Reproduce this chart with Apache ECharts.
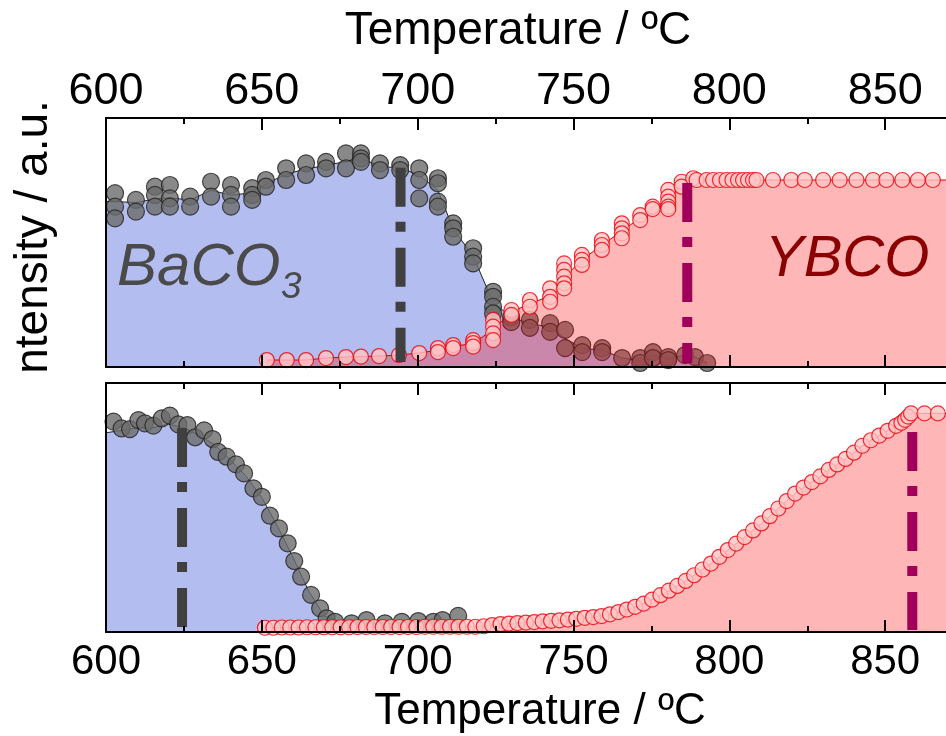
<!DOCTYPE html>
<html><head><meta charset="utf-8">
<script src="https://cdn.jsdelivr.net/npm/echarts@6/dist/echarts.min.js"></script>
<style>html,body{margin:0;padding:0;background:#fff}#c{width:946px;height:736px}</style>
</head><body><div id="c"></div>
<script>
// ---------- data ----------
const xTickLabels = [600, 650, 700, 750, 800, 850];

// top panel, BaCO3 (grey dots, several readings per temperature step)
const topBaT = [602.9,609.6,615.7,620.5,627,633.7,640.1,646.9,651.3,657.8,664.2,670.6,677,681.8,687.9,694.4,700.5,706.5,711.4,717.8,724.2,730,736,742.5,747.3,752.8,759.2,765.6,771.4,775.5,780.4,785.8,789,792.9];
const topBaV = [[0.698,0.644,0.597],[0.671,0.624],[0.724,0.691,0.644],[0.731,0.677,0.644],[0.684,0.644],[0.744,0.684],[0.731,0.691,0.644],[0.718,0.691,0.671],[0.751,0.724],[0.798,0.751],[0.818,0.771],[0.824,0.798],[0.858,0.798],[0.858,0.838,0.824],[0.818,0.791],[0.811,0.791],[0.798,0.751,0.677],[0.758,0.738,0.664,0.644],[0.577,0.557,0.523],[0.477,0.443,0.416],[0.302,0.282,0.242,0.215],[0.2,0.18],[0.189,0.157],[0.176,0.141],[0.149,0.076],[0.088,0.06],[0.076,0.06],[0.036],[0.036,0.016],[0.06,0.036],[0.04,0.028],[0.048],[0.04],[0.016]];
const topBaLineT = [600,602.9,609.6,615.7,620.5,627,633.7,640.1,646.9,651.3,657.8,664.2,670.6,677,681.8,687.9,694.4,700.5,706.5,711.4,717.8,724.2,730,736,742.5,747.3,752.8,759.2,765.6,771.4,775.5,780.4,785.8,789,792.9];
const topBaLineV = [0.665,0.665,0.66,0.675,0.68,0.67,0.71,0.69,0.7,0.735,0.775,0.795,0.81,0.825,0.84,0.805,0.8,0.77,0.71,0.555,0.445,0.26,0.2,0.175,0.16,0.115,0.075,0.068,0.036,0.026,0.048,0.034,0.048,0.04,0.016];

// top panel, YBCO (red circles)
const topYT = [651.6,658,664.2,670.6,677,681.8,687.6,694,700.5,706.5,711.4,717.8,724.2,730.1,736,742.5,747,752.7,759.1,765.5,771.4,775.4,780.4,784.7,788.4,789.5,792.7,794.8,797,799.1,801,802.8,804.4,806,807.6,808.7,814,819.9,824.2,830.1,835.4,840.8,846.1,850.4,855.5,860.5,865.3];
const topYV = [[0.028],[0.028],[0.028],[0.036],[0.04],[0.042],[0.044],[0.048],[0.056],[0.076,0.06],[0.088,0.076],[0.108,0.096,0.082],[0.189,0.162,0.135,0.108],[0.229,0.209],[0.269,0.242],[0.316,0.282,0.262],[0.416,0.39,0.363,0.336,0.316],[0.45,0.43,0.41],[0.51,0.49,0.47],[0.577,0.557,0.537,0.517],[0.61,0.59],[0.644,0.634],[0.711,0.684,0.664,0.644,0.634],[0.744,0.724],[0.758],[0.751],[0.751],[0.751],[0.751],[0.751],[0.751],[0.751],[0.751],[0.751],[0.751],[0.751],[0.751],[0.751],[0.751],[0.751],[0.751],[0.751],[0.751],[0.751],[0.751],[0.751],[0.751]];
const topYLineT = [651.6,664.2,670.6,677,681.8,687.6,694,700.5,706.5,711.4,717.8,724.2,730.1,736,742.5,747,752.7,759.1,765.5,771.4,775.4,780.4,784.7,788.4,790,900];
const topYLineV = [0.028,0.028,0.036,0.04,0.042,0.044,0.048,0.056,0.068,0.082,0.095,0.15,0.22,0.255,0.285,0.36,0.43,0.49,0.545,0.6,0.64,0.67,0.735,0.755,0.751,0.751];

// bottom panel, BaCO3
const botBaT = [602.4,605,607.7,610.4,612.5,615.2,617.9,620.5,623.2,626.1,628.6,631.5,634.2,636,638.7,641.7,644.3,647.3,650,652.6,655.5,658.3,660.4,662.6,665.8,668.7,670.8,673.5,678.8,683.6,689.5,694.9,700.2,705,708,713];
const botBaV = [0.845,0.818,0.815,0.851,0.838,0.829,0.858,0.869,0.834,0.831,0.782,0.81,0.775,0.723,0.704,0.673,0.637,0.577,0.543,0.467,0.416,0.356,0.285,0.222,0.149,0.095,0.055,0.041,0.035,0.048,0.035,0.041,0.044,0.041,0.048,0.065];
const botBaLineT = [600,605,610,615,620,625,630,635,640,645,650,655,660,665,670,675,690,713];
const botBaLineV = [0.8,0.81,0.82,0.82,0.835,0.82,0.79,0.75,0.69,0.625,0.54,0.425,0.3,0.165,0.065,0.04,0.035,0.05];

// bottom panel, YBCO
const botYT = [651,653.7,656.4,659.1,661.8,664.5,667.2,669.9,672.6,675.3,678,680.7,683.4,686.1,688.8,691.5,694.2,696.9,699.6,702.3,705,707.7,710.4,713.1,715.8,718.5,721.2,723.9,726.6,729.3,732,734.7,737.4,740.1,742.8,745.5,748.2,750.9,753.6,756.3,759,761.7,764.4,767.1,769.8,772.5,775.2,777.9,780.6,783.3,786,788.7,791.4,794.1,796.8,799.5,802.2,804.9,807.6,810.3,813,815.7,818.4,821.1,823.8,826.5,829.2,831.9,834.6,837.3,840,842.7,845.4,848.1,850.8,853.5,855.2,856.4,857.4,858.3,862.6,866.9];
const botYV = [0.017,0.017,0.018,0.018,0.018,0.019,0.019,0.019,0.019,0.019,0.019,0.02,0.02,0.02,0.02,0.02,0.02,0.02,0.02,0.021,0.021,0.021,0.021,0.021,0.021,0.021,0.023,0.028,0.032,0.034,0.036,0.038,0.04,0.043,0.045,0.047,0.05,0.053,0.057,0.06,0.064,0.071,0.08,0.09,0.101,0.114,0.13,0.148,0.166,0.185,0.205,0.228,0.251,0.275,0.302,0.329,0.355,0.381,0.408,0.436,0.465,0.496,0.526,0.556,0.58,0.602,0.625,0.651,0.673,0.695,0.72,0.748,0.77,0.789,0.808,0.828,0.84,0.852,0.865,0.878,0.878,0.878];
const botYEndT = 900, botYEndV = 0.878;

// dash-dot marker lines: [temperature, top, bottom]
const markTopBa = [694.5, 0.80, 0.02];
const markTopY  = [786.5, 0.739, 0.016];
const markBotBa = [624.4, 0.819, 0.02];
const markBotY  = [858.7, 0.803, 0.008];

// ---------- helpers ----------
const FONT = '"Liberation Sans", Arial, sans-serif';
const zip = (t, v) => t.map((x, i) => [x, v[i]]);
const flat = (t, vv) => { const o = []; t.forEach((x, i) => vv[i].forEach(v => o.push([x, v]))); return o; };

function xAx(gridIndex, position, showLabel, fs, margin) {
  return {
    type: 'value', gridIndex, position, min: 600, max: 900, interval: 50,
    axisLine: { show: true, onZero: false, lineStyle: { color: '#000', width: 2 } },
    axisTick: { show: true, inside: true, length: 12, lineStyle: { color: '#000', width: 2 } },
    minorTick: { show: true, splitNumber: 2, length: 6, lineStyle: { color: '#000', width: 2 } },
    splitLine: { show: false }, minorSplitLine: { show: false },
    axisLabel: { show: showLabel, fontSize: fs, fontFamily: FONT, color: '#000', margin,
      formatter: v => (xTickLabels.indexOf(v) >= 0 ? String(v) : '') },
    z: 10
  };
}
function yAx(gridIndex) {
  return {
    type: 'value', gridIndex, min: 0, max: 1,
    axisLine: { show: true, lineStyle: { color: '#000', width: 2 } },
    axisTick: { show: false }, axisLabel: { show: false }, splitLine: { show: false },
    z: 10
  };
}
const grayDot = { color: '#6c6c6c', borderColor: '#222', borderWidth: 1.2 };
const redDot = { color: '#ffc4c4', borderColor: '#e8000b', borderWidth: 1.2 };
const BLUE = '#b4bdf0', PINK = 'rgba(255,0,0,0.285)';

function dash(m, xi, yi, color) {
  return { type: 'line', xAxisIndex: xi, yAxisIndex: yi, data: [[m[0], m[1]], [m[0], m[2]]],
    symbol: 'none', lineStyle: { color, width: 10, type: [39, 15, 10, 16], cap: 'butt' }, z: 6, silent: true };
}

const option = {
  animation: false,
  backgroundColor: '#fff',
  grid: [
    { left: 106, top: 118, width: 935, height: 249, outerBoundsMode: 'none', containLabel: false },
    { left: 106, top: 383, width: 935, height: 249, outerBoundsMode: 'none', containLabel: false }
  ],
  xAxis: [ xAx(0, 'top', true, 45, 4), xAx(0, 'bottom', false, 45, 4), xAx(1, 'top', false, 42, 9), xAx(1, 'bottom', true, 42, 9) ],
  yAxis: [ yAx(0), yAx(1) ],
  series: [
    // top
    { type: 'line', xAxisIndex: 0, yAxisIndex: 0, data: zip(topBaLineT, topBaLineV), symbol: 'none',
      lineStyle: { color: '#222', width: 1 }, areaStyle: { color: BLUE, opacity: 1 }, z: 1 },
    { type: 'scatter', xAxisIndex: 0, yAxisIndex: 0, data: flat(topBaT, topBaV), symbolSize: 17, itemStyle: grayDot, z: 2 },
    { type: 'line', xAxisIndex: 0, yAxisIndex: 0, data: zip(topYLineT, topYLineV), symbol: 'none',
      lineStyle: { color: '#e00000', width: 1 }, areaStyle: { color: PINK, opacity: 1 }, z: 3 },
    { type: 'scatter', xAxisIndex: 0, yAxisIndex: 0, data: flat(topYT, topYV), symbolSize: 15, itemStyle: redDot, z: 4 },
    dash(markTopBa, 0, 0, '#404040'),
    dash(markTopY, 0, 0, '#a0005a'),
    // bottom
    { type: 'line', xAxisIndex: 3, yAxisIndex: 1, data: zip(botBaLineT, botBaLineV), symbol: 'none',
      lineStyle: { color: '#222', width: 1 }, areaStyle: { color: BLUE, opacity: 1 }, z: 1 },
    { type: 'scatter', xAxisIndex: 3, yAxisIndex: 1, data: zip(botBaT, botBaV), symbolSize: 17, itemStyle: grayDot, z: 2 },
    { type: 'line', xAxisIndex: 3, yAxisIndex: 1, data: zip(botYT, botYV).concat([[botYEndT, botYEndV]]), symbol: 'none',
      lineStyle: { color: '#e00000', width: 1 }, areaStyle: { color: PINK, opacity: 1 }, z: 3 },
    { type: 'scatter', xAxisIndex: 3, yAxisIndex: 1, data: zip(botYT, botYV), symbolSize: 15, itemStyle: redDot, z: 4 },
    dash(markBotBa, 3, 1, '#404040'),
    dash(markBotY, 3, 1, '#a0005a')
  ],
  graphic: [
    { type: 'text', x: 518, y: 31, z: 100, style: { text: 'Temperature / ºC', fontSize: 46, fontFamily: FONT, fill: '#000', align: 'center', verticalAlign: 'middle' } },
    { type: 'text', x: 540, y: 712, z: 100, style: { text: 'Temperature / ºC', fontSize: 44, fontFamily: FONT, fill: '#000', align: 'center', verticalAlign: 'middle' } },
    { type: 'text', x: 34, y: 237, rotation: Math.PI / 2, z: 100, style: { text: 'ntensity / a.u.', fontSize: 46, fontFamily: FONT, fill: '#000', align: 'center', verticalAlign: 'middle' } },
    { type: 'text', x: 117, y: 268, z: 100, style: { text: 'BaCO', fontSize: 60, fontStyle: 'italic', fontFamily: FONT, fill: '#4a4a4a', align: 'left', verticalAlign: 'middle' } },
    { type: 'text', x: 281, y: 288, z: 100, style: { text: '3', fontSize: 37, fontStyle: 'italic', fontFamily: FONT, fill: '#4a4a4a', align: 'left', verticalAlign: 'middle' } },
    { type: 'text', x: 765, y: 260, z: 100, style: { text: 'YBCO', fontSize: 58, fontStyle: 'italic', fontFamily: FONT, fill: '#8b0000', align: 'left', verticalAlign: 'middle' } }
  ]
};
const chart = echarts.init(document.getElementById('c'), null, { renderer: 'canvas' });
chart.setOption(option);
</script>
</body></html>
